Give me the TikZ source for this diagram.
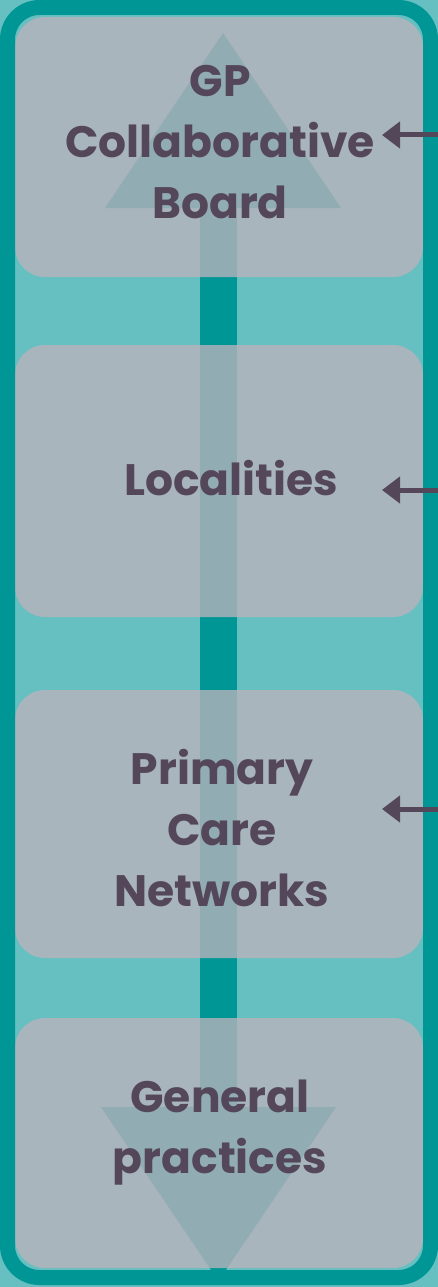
\documentclass[tikz,border=0pt]{standalone}
\usepackage{fontspec}
\setmainfont{Poppins}
\usetikzlibrary{arrows.meta}
\definecolor{lightteal}{RGB}{102,191,192}
\definecolor{darkteal}{RGB}{0,150,150}
\definecolor{boxgray}{RGB}{189,179,187}
\definecolor{textplum}{RGB}{84,71,90}
\tikzset{
  tier/.style={fill=boxgray,fill opacity=0.77,rounded corners=30pt},
  tiertext/.style={text=textplum,font=\fontsize{44}{61}\selectfont\bfseries,align=center,inner sep=0pt},
  feed/.style={draw=textplum,line width=5pt,-{Triangle[length=18pt,width=26pt]}}
}
\begin{document}
\begin{tikzpicture}[x=1pt,y=-1pt]
 \useasboundingbox (0,0) rectangle (438,1287);
 \fill[lightteal](0,0) rectangle (438,1287);
 % two-way arrow behind the tiers
 \fill[darkteal](200,208) rectangle (237,1107);
 \fill[darkteal](105,208)--(223,33)--(341,208)--cycle;
 \fill[darkteal](101,1107)--(336,1107)--(218.5,1281)--cycle;
 % tiers
 \fill[tier](15,17) rectangle (423,277);
 \fill[tier](15,345) rectangle (423,617);
 \fill[tier](15,690) rectangle (423,958);
 \fill[tier](15,1018) rectangle (423,1268);
 % frame
 \draw[darkteal,line width=15pt,rounded corners=32pt](7.5,7.5) rectangle (430.5,1277.5);
 \node[tiertext] (board) at (220,142) {GP\\Collaborative\\Board};
 \node[tiertext] (localities) at (231,478) {Localities};
 \node[tiertext] (pcn) at (222,828) {Primary\\Care\\Networks};
 \node[tiertext] (practices) at (220,1133) {General\\practices};
 \coordinate (in1) at (438,135); \coordinate (at1) at (382,135);
 \coordinate (in2) at (438,490); \coordinate (at2) at (382,490);
 \coordinate (in3) at (438,809); \coordinate (at3) at (382,809);
 \draw[feed](in1)--(at1);
 \draw[feed](in2)--(at2);
 \draw[feed](in3)--(at3);
\end{tikzpicture}
\end{document}
